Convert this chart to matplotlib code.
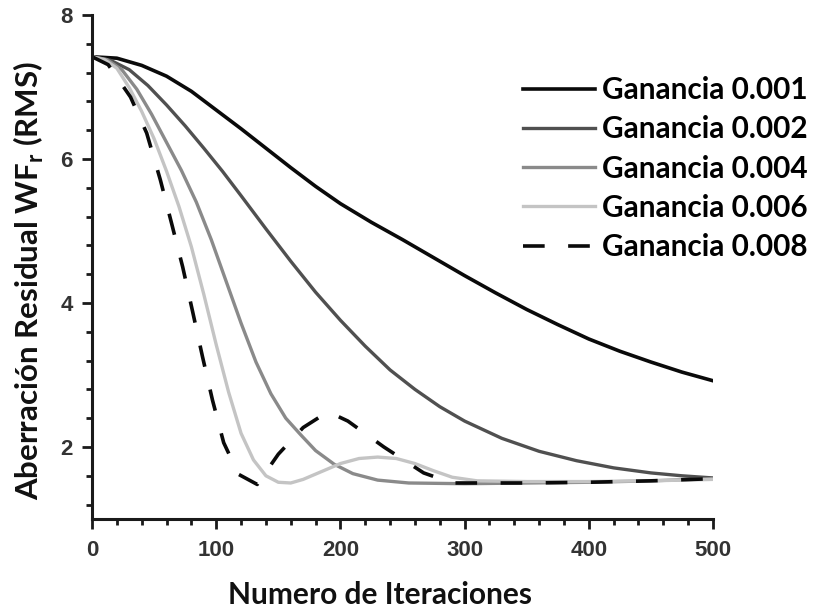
import matplotlib
matplotlib.use("Agg")
import matplotlib.pyplot as plt
from matplotlib.ticker import MultipleLocator

# curvas de convergencia para cada ganancia
x_g001 = [0, 20, 40, 60, 80, 100, 120, 140, 160, 180, 200, 225, 250, 275, 300,
          325, 350, 375, 400, 425, 450, 475, 500]
y_g001 = [7.42, 7.40, 7.30, 7.15, 6.94, 6.68, 6.42, 6.15, 5.88, 5.62, 5.38, 5.12,
          4.88, 4.63, 4.38, 4.14, 3.91, 3.70, 3.50, 3.33, 3.18, 3.04, 2.92]

x_g002 = [0, 15, 30, 45, 60, 75, 90, 105, 120, 140, 160, 180, 200, 220, 240, 260,
          280, 300, 330, 360, 390, 420, 450, 475, 500]
y_g002 = [7.42, 7.37, 7.24, 7.02, 6.75, 6.46, 6.15, 5.83, 5.49, 5.03, 4.58, 4.15,
          3.76, 3.40, 3.07, 2.80, 2.56, 2.36, 2.12, 1.94, 1.81, 1.71, 1.64, 1.60, 1.57]

x_g004 = [0, 12, 24, 36, 48, 60, 72, 84, 96, 108, 120, 132, 144, 156, 168, 180,
          195, 210, 230, 255, 300, 350, 400, 450, 500]
y_g004 = [7.42, 7.38, 7.24, 6.97, 6.62, 6.23, 5.84, 5.40, 4.88, 4.30, 3.72, 3.18,
          2.74, 2.40, 2.17, 1.95, 1.76, 1.63, 1.54, 1.50, 1.49, 1.50, 1.51, 1.53, 1.56]

x_g006 = [0, 10, 20, 30, 40, 50, 60, 70, 80, 90, 100, 110, 120, 130, 140, 150, 160,
          170, 185, 200, 215, 230, 245, 260, 275, 290, 310, 350, 400, 450, 500]
y_g006 = [7.42, 7.38, 7.26, 6.99, 6.66, 6.28, 5.83, 5.34, 4.78, 4.12, 3.42, 2.76,
          2.19, 1.82, 1.60, 1.51, 1.50, 1.55, 1.66, 1.77, 1.84, 1.86, 1.84, 1.77,
          1.67, 1.58, 1.53, 1.52, 1.52, 1.53, 1.55]

x_g008 = [0, 13, 31, 44, 55, 64, 73, 81, 89, 97, 106, 118, 133, 150, 170, 190, 206,
          235, 267, 290, 350, 400, 450, 500]
y_g008 = [7.42, 7.31, 6.86, 6.36, 5.71, 5.11, 4.50, 3.88, 3.25, 2.65, 2.06, 1.62,
          1.48, 1.90, 2.27, 2.49, 2.36, 2.00, 1.64, 1.50, 1.50, 1.51, 1.53, 1.56]

etiquetas = ["Ganancia 0.001", "Ganancia 0.002", "Ganancia 0.004",
             "Ganancia 0.006", "Ganancia 0.008"]

fig = plt.figure(figsize=(8.13, 6.09), dpi=100)
ax = fig.add_axes([0.1132, 0.1478, 0.7638, 0.8276])

ax.plot(x_g001, y_g001, color="#0a0a0a", lw=2.6, label=etiquetas[0])
ax.plot(x_g002, y_g002, color="#505050", lw=2.4, label=etiquetas[1])
ax.plot(x_g004, y_g004, color="#8a8a8a", lw=2.4, label=etiquetas[2])
ax.plot(x_g006, y_g006, color="#c4c4c4", lw=2.4, label=etiquetas[3])
ax.plot(x_g008, y_g008, color="#0a0a0a", lw=2.6, linestyle=(0, (6.0, 6.5)),
        label=etiquetas[4])

ax.set_xlim(0, 500)
ax.set_ylim(1, 8)
ax.xaxis.set_major_locator(MultipleLocator(100))
ax.xaxis.set_minor_locator(MultipleLocator(20))
ax.yaxis.set_major_locator(MultipleLocator(2))
ax.yaxis.set_minor_locator(MultipleLocator(0.4))

for lado in ["top", "right"]:
    ax.spines[lado].set_visible(False)
for lado in ["left", "bottom"]:
    ax.spines[lado].set_linewidth(2.2)
    ax.spines[lado].set_color("#1a1a1a")

ax.tick_params(which="major", length=7, width=2.0, color="#1a1a1a", pad=7)
ax.tick_params(axis="x", which="major", pad=8)
ax.tick_params(which="minor", length=4.5, width=2.0, color="#1a1a1a")
for t in ax.get_xticklabels() + ax.get_yticklabels():
    t.set_fontfamily("Liberation Sans")
    t.set_fontweight("bold")
    t.set_fontsize(16)
    t.set_color("#333333")

ax.set_xlabel("Numero de Iteraciones", fontfamily="Lato", fontweight="bold",
              fontsize=21.5, color="#111111")
ax.xaxis.set_label_coords(0.464, -0.123)
ax.set_ylabel(r"Aberración Residual WF$_\mathregular{r}$ (RMS)", fontfamily="Lato",
              fontweight="bold", fontsize=22.5, color="#111111")
ax.yaxis.set_label_coords(-0.074, 0.474)

leg = ax.legend(loc="upper left", bbox_to_anchor=(523 / 813, 1 - 76 / 609),
                bbox_transform=fig.transFigure, frameon=False,
                handlelength=2.42, handletextpad=0.23, labelspacing=0.38,
                borderpad=0, borderaxespad=0,
                prop={"family": "Lato", "weight": "bold", "size": 21.4})

fig.savefig("out.png", dpi=100)
